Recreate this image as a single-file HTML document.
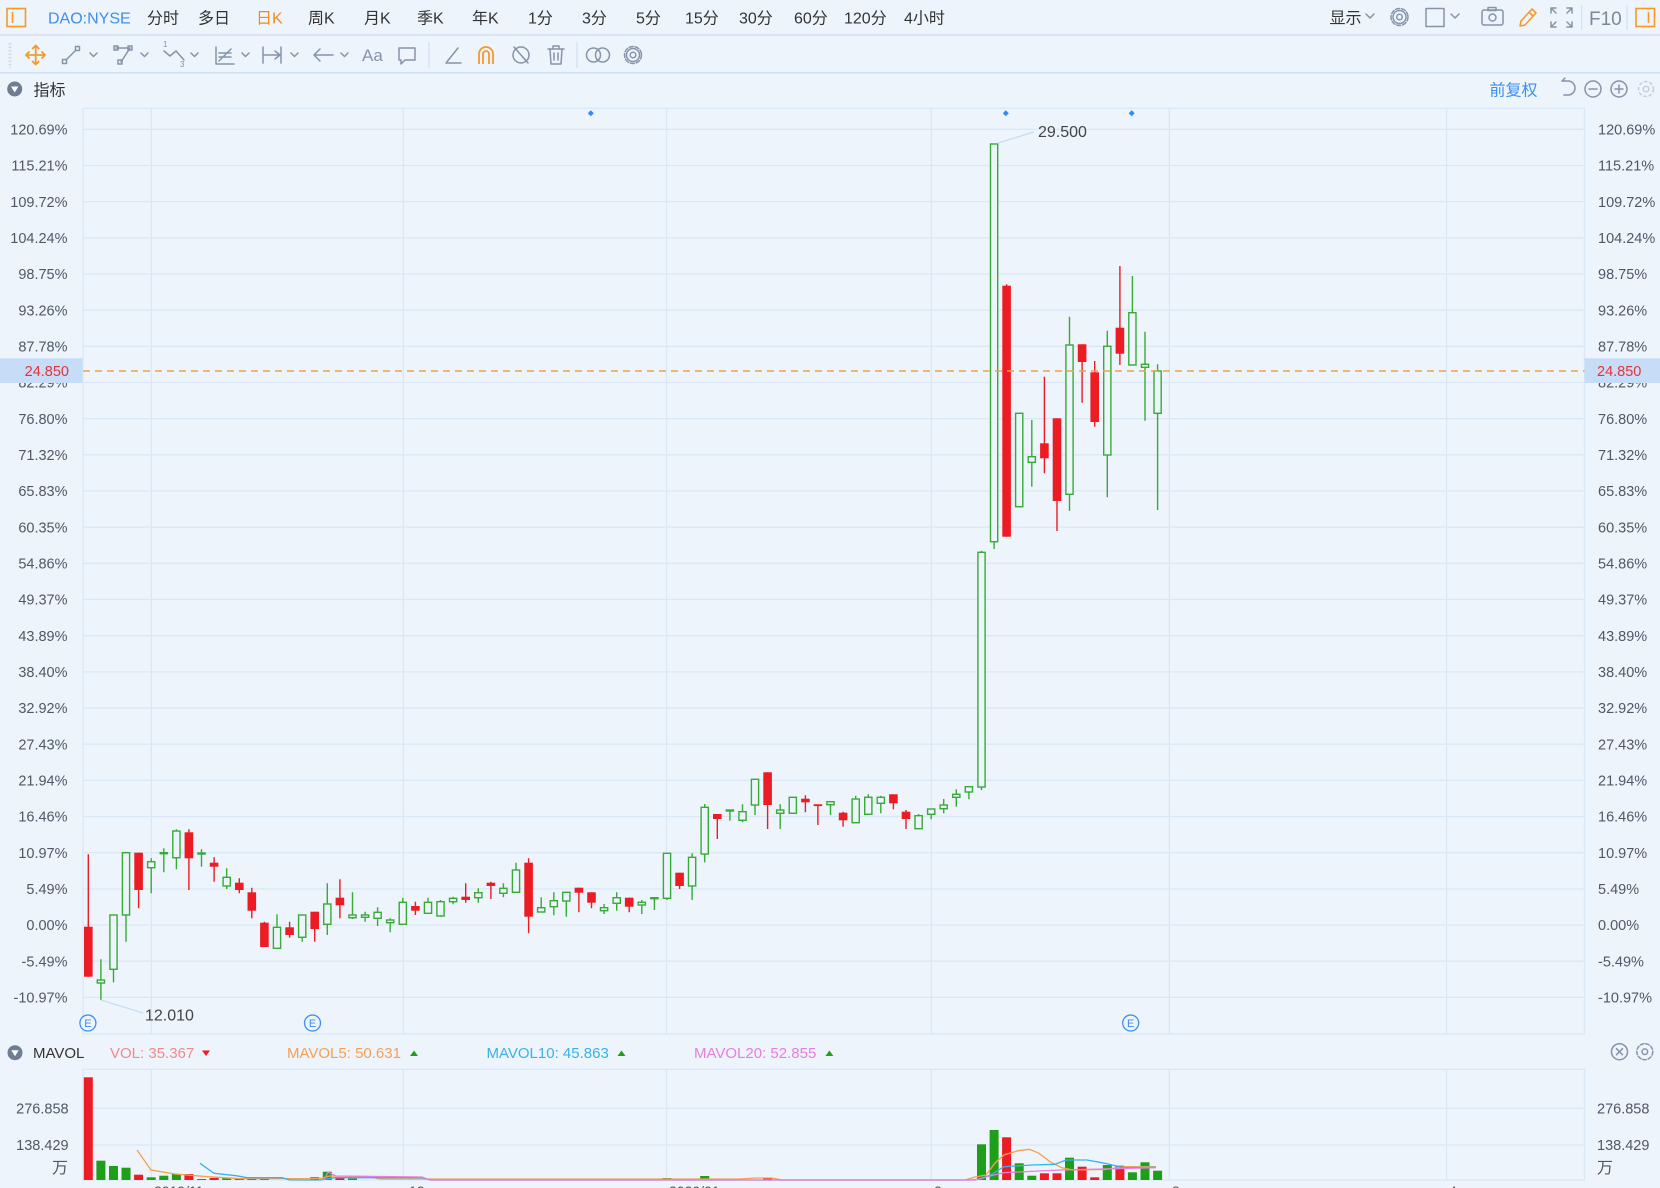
<!DOCTYPE html>
<html><head><meta charset="utf-8"><style>
html,body{margin:0;padding:0;background:#edf4fc;overflow:hidden;width:1660px;height:1188px}
svg{display:block}
text{font-family:"Liberation Sans","Noto Sans CJK SC",sans-serif}
.ax{font-size:14.5px;fill:#4f5866}
.tb{font-size:16px;fill:#333}
.ic{fill:none;stroke:#8694a8;stroke-width:1.5;stroke-linecap:round;stroke-linejoin:round}
.gw{fill:none;stroke:#38ab37;stroke-width:1.4}
.gb{fill:#edf4fc;stroke:#38ab37;stroke-width:1.4}
.rw{fill:none;stroke:#ec1c24;stroke-width:1.4}
.rb{fill:#ec1c24}
.grid{stroke:#dae8f6;stroke-width:1.3}
</style></head><body>
<svg width="1660" height="1188" viewBox="0 0 1660 1188" xmlns="http://www.w3.org/2000/svg">
<rect x="0" y="0" width="1660" height="1188" fill="#edf4fc"/>
<!-- row separators -->
<line x1="0" y1="35" x2="1660" y2="35" stroke="#d3e2f2" stroke-width="1.5"/>
<line x1="0" y1="72.7" x2="1660" y2="72.7" stroke="#d3e2f2" stroke-width="1.5"/>

<!-- ROW 1 -->
<rect x="7" y="8.5" width="18.5" height="18" fill="none" stroke="#f39a2b" stroke-width="1.6"/>
<line x1="12.5" y1="12" x2="12.5" y2="23" stroke="#f39a2b" stroke-width="1.6"/>
<text x="48" y="23.5" style="font-size:16px;fill:#3d8ef0">DAO:NYSE</text>
<text class="tb" x="147" y="23.5">分时</text>
<text class="tb" x="198" y="23.5">多日</text>
<text x="256" y="23.5" style="font-size:16px;fill:#f08c1e">日K</text>
<text class="tb" x="308" y="23.5">周K</text>
<text class="tb" x="364" y="23.5">月K</text>
<text class="tb" x="417" y="23.5">季K</text>
<text class="tb" x="472" y="23.5">年K</text>
<text class="tb" x="528" y="23.5">1分</text>
<text class="tb" x="582" y="23.5">3分</text>
<text class="tb" x="636" y="23.5">5分</text>
<text class="tb" x="685" y="23.5">15分</text>
<text class="tb" x="739" y="23.5">30分</text>
<text class="tb" x="794" y="23.5">60分</text>
<text class="tb" x="844" y="23.5">120分</text>
<text class="tb" x="904" y="23.5">4小时</text>

<text class="tb" x="1329.5" y="23.5">显示</text>
<polyline class="ic" points="1366,14 1370,18 1374,14"/>
<circle class="ic" cx="1399.5" cy="17" r="8.5" stroke-dasharray="4 2"/>
<circle class="ic" cx="1399.5" cy="17" r="6.5"/>
<circle class="ic" cx="1399.5" cy="17" r="2.8"/>
<rect class="ic" x="1426" y="8.5" width="18" height="18"/>
<polyline class="ic" points="1451,14 1455,18 1459,14"/>
<rect class="ic" x="1482" y="10" width="21" height="15" rx="2"/>
<rect class="ic" x="1488" y="7.5" width="8" height="3"/>
<circle class="ic" cx="1492.5" cy="17.5" r="3.5"/>
<path d="M1520 26 L1521 21 L1532 9 L1536 13 L1525 25 Z M1529 12 L1533 16" fill="none" stroke="#f39a2b" stroke-width="1.6" stroke-linejoin="round"/>
<path class="ic" d="M1551 13V8H1556 M1567 8H1572V13 M1572 22V27H1567 M1556 27H1551V22 M1552 9L1556 13 M1571 9L1567 13 M1571 26L1567 22 M1552 26L1556 22"/>
<line x1="1581.6" y1="5" x2="1581.6" y2="30" stroke="#d3e2f2" stroke-width="1.3"/>
<text x="1589" y="25" style="font-size:19px;fill:#7d8898">F10</text>
<line x1="1627" y1="5" x2="1627" y2="30" stroke="#d3e2f2" stroke-width="1.3"/>
<rect x="1636" y="8.5" width="18.5" height="18" fill="none" stroke="#f39a2b" stroke-width="1.6"/>
<line x1="1648.5" y1="12" x2="1648.5" y2="23" stroke="#f39a2b" stroke-width="1.6"/>

<!-- ROW 2 -->
<line x1="10" y1="43" x2="10" y2="68" stroke="#c8d6e6" stroke-width="2.5" stroke-dasharray="1.5 2"/>
<g fill="none" stroke="#f39a2b" stroke-width="1.8" stroke-linecap="round" stroke-linejoin="round">
<path d="M26 55H45 M35.7 45.5V64.5 M29 52L26 55L29 58 M42 52L45 55L42 58 M32.7 48.5L35.7 45.5L38.7 48.5 M32.7 61.5L35.7 64.5L38.7 61.5"/>
</g>
<path class="ic" d="M66 60L76 50"/><rect class="ic" x="62.5" y="59.5" width="4" height="4"/><rect class="ic" x="75.5" y="46.5" width="4" height="4"/>
<polyline class="ic" points="90,53 93.5,56.5 97,53"/>
<path class="ic" d="M116 48H130L121 62"/><rect class="ic" x="114" y="46" width="4" height="4"/><rect class="ic" x="128" y="46" width="4" height="4"/><rect class="ic" x="118" y="60" width="4" height="4"/>
<polyline class="ic" points="141,53 144.5,56.5 148,53"/>
<polyline class="ic" points="164,51 170,56 176,51 184,60"/>
<text x="163" y="47" style="font-size:8px;fill:#8694a8">1</text><text x="180" y="67" style="font-size:8px;fill:#8694a8">3</text>
<polyline class="ic" points="191,53 194.5,56.5 198,53"/>
<path class="ic" d="M216 47V64H234 M219 61L231 49 M219 53H231 M219 57H231"/>
<polyline class="ic" points="242,53 245.5,56.5 249,53"/>
<path class="ic" d="M263 47V63 M281 47V63 M263 55H280 M275 51L280 55L275 59"/>
<polyline class="ic" points="291,53 294.5,56.5 298,53"/>
<path class="ic" d="M314 55H333 M320 49L314 55L320 61"/>
<polyline class="ic" points="341,53 344.5,56.5 348,53"/>
<text x="362" y="61" style="font-size:17px;fill:#8694a8">Aa</text>
<path class="ic" d="M399 48H415V60H405L401 64V60H399Z"/>
<line x1="429" y1="42" x2="429" y2="68" stroke="#d3e2f2" stroke-width="1.3"/>
<path class="ic" d="M446 63H461 M446 63L458 48"/>
<path d="M479 64V54A7 7 0 0 1 493 54V64 M483 64V54A3 3 0 0 1 489 54V64" fill="none" stroke="#f39a2b" stroke-width="1.8"/>
<circle class="ic" cx="521" cy="55" r="8"/><path class="ic" d="M514 47L528 63"/>
<path class="ic" d="M548 49H564 M553 49V46H559V49 M550 49L551 64H561L562 49 M554 53V60 M558 53V60"/>
<line x1="577" y1="42" x2="577" y2="68" stroke="#d3e2f2" stroke-width="1.3"/>
<circle class="ic" cx="593.5" cy="55" r="7"/><circle class="ic" cx="602.5" cy="55" r="7"/>
<circle class="ic" cx="633" cy="55" r="8.5" stroke-dasharray="4 2"/><circle class="ic" cx="633" cy="55" r="6.5"/><circle class="ic" cx="633" cy="55" r="2.8"/>

<!-- ROW 3 -->
<circle cx="14.7" cy="89" r="7.5" fill="#6e7d91"/>
<path d="M11 86.5H18.4L14.7 92.5Z" fill="#fff"/>
<text x="33.5" y="95.5" style="font-size:16px;fill:#333">指标</text>
<text x="1489.5" y="95.5" style="font-size:16px;fill:#3d8ef0">前复权</text>
<path class="ic" d="M1562 81H1568A7 7 0 0 1 1568 95H1564 M1562 81L1565 78"/>
<circle class="ic" cx="1593" cy="89" r="8"/><path class="ic" d="M1589 89H1597"/>
<circle class="ic" cx="1619" cy="89" r="8"/><path class="ic" d="M1615 89H1623 M1619 85V93"/>
<circle cx="1646" cy="89" r="7.5" fill="none" stroke="#c3cfdc" stroke-width="1.5" stroke-dasharray="3.5 2"/><circle cx="1646" cy="89" r="2.8" fill="none" stroke="#c3cfdc" stroke-width="1.5"/>

<!-- MAIN CHART GRID -->
<g class="grid">
<rect x="83" y="108.3" width="1501.5" height="925.7" fill="none"/>
<line x1="83" x2="1584.5" y1="129.3" y2="129.3"/>
<line x1="83" x2="1584.5" y1="165.5" y2="165.5"/>
<line x1="83" x2="1584.5" y1="201.6" y2="201.6"/>
<line x1="83" x2="1584.5" y1="237.8" y2="237.8"/>
<line x1="83" x2="1584.5" y1="274" y2="274"/>
<line x1="83" x2="1584.5" y1="310.2" y2="310.2"/>
<line x1="83" x2="1584.5" y1="346.3" y2="346.3"/>
<line x1="83" x2="1584.5" y1="382.5" y2="382.5"/>
<line x1="83" x2="1584.5" y1="418.7" y2="418.7"/>
<line x1="83" x2="1584.5" y1="454.8" y2="454.8"/>
<line x1="83" x2="1584.5" y1="491" y2="491"/>
<line x1="83" x2="1584.5" y1="527.2" y2="527.2"/>
<line x1="83" x2="1584.5" y1="563.3" y2="563.3"/>
<line x1="83" x2="1584.5" y1="599.5" y2="599.5"/>
<line x1="83" x2="1584.5" y1="635.7" y2="635.7"/>
<line x1="83" x2="1584.5" y1="671.9" y2="671.9"/>
<line x1="83" x2="1584.5" y1="708" y2="708"/>
<line x1="83" x2="1584.5" y1="744.2" y2="744.2"/>
<line x1="83" x2="1584.5" y1="780.4" y2="780.4"/>
<line x1="83" x2="1584.5" y1="816.5" y2="816.5"/>
<line x1="83" x2="1584.5" y1="852.7" y2="852.7"/>
<line x1="83" x2="1584.5" y1="888.9" y2="888.9"/>
<line x1="83" x2="1584.5" y1="925" y2="925"/>
<line x1="83" x2="1584.5" y1="961.2" y2="961.2"/>
<line x1="83" x2="1584.5" y1="997.4" y2="997.4"/>
<line x1="151.3" x2="151.3" y1="108.3" y2="1034"/>
<line x1="403.3" x2="403.3" y1="108.3" y2="1034"/>
<line x1="666.5" x2="666.5" y1="108.3" y2="1034"/>
<line x1="931.3" x2="931.3" y1="108.3" y2="1034"/>
<line x1="1169.3" x2="1169.3" y1="108.3" y2="1034"/>
<line x1="1446.5" x2="1446.5" y1="108.3" y2="1034"/>
</g>

<!-- AXIS LABELS -->
<g class="ax" text-anchor="end">
<text x="67.5" y="134.5">120.69%</text>
<text x="67.5" y="170.7">115.21%</text>
<text x="67.5" y="206.8">109.72%</text>
<text x="67.5" y="243">104.24%</text>
<text x="67.5" y="279.2">98.75%</text>
<text x="67.5" y="315.4">93.26%</text>
<text x="67.5" y="351.5">87.78%</text>
<text x="67.5" y="387.7">82.29%</text>
<text x="67.5" y="423.9">76.80%</text>
<text x="67.5" y="460">71.32%</text>
<text x="67.5" y="496.2">65.83%</text>
<text x="67.5" y="532.4">60.35%</text>
<text x="67.5" y="568.5">54.86%</text>
<text x="67.5" y="604.7">49.37%</text>
<text x="67.5" y="640.9">43.89%</text>
<text x="67.5" y="677.1">38.40%</text>
<text x="67.5" y="713.2">32.92%</text>
<text x="67.5" y="749.4">27.43%</text>
<text x="67.5" y="785.6">21.94%</text>
<text x="67.5" y="821.7">16.46%</text>
<text x="67.5" y="857.9">10.97%</text>
<text x="67.5" y="894.1">5.49%</text>
<text x="67.5" y="930.2">0.00%</text>
<text x="67.5" y="966.4">-5.49%</text>
<text x="67.5" y="1002.6">-10.97%</text>
</g>
<g class="ax">
<text x="1598" y="134.5">120.69%</text>
<text x="1598" y="170.7">115.21%</text>
<text x="1598" y="206.8">109.72%</text>
<text x="1598" y="243">104.24%</text>
<text x="1598" y="279.2">98.75%</text>
<text x="1598" y="315.4">93.26%</text>
<text x="1598" y="351.5">87.78%</text>
<text x="1598" y="387.7">82.29%</text>
<text x="1598" y="423.9">76.80%</text>
<text x="1598" y="460">71.32%</text>
<text x="1598" y="496.2">65.83%</text>
<text x="1598" y="532.4">60.35%</text>
<text x="1598" y="568.5">54.86%</text>
<text x="1598" y="604.7">49.37%</text>
<text x="1598" y="640.9">43.89%</text>
<text x="1598" y="677.1">38.40%</text>
<text x="1598" y="713.2">32.92%</text>
<text x="1598" y="749.4">27.43%</text>
<text x="1598" y="785.6">21.94%</text>
<text x="1598" y="821.7">16.46%</text>
<text x="1598" y="857.9">10.97%</text>
<text x="1598" y="894.1">5.49%</text>
<text x="1598" y="930.2">0.00%</text>
<text x="1598" y="966.4">-5.49%</text>
<text x="1598" y="1002.6">-10.97%</text>
</g>

<!-- top markers -->
<g fill="#2f8cf0">
<path d="M590.8 110.3L593.8 113.3L590.8 116.3L587.8 113.3Z"/>
<path d="M1005.8 110.3L1008.8 113.3L1005.8 116.3L1002.8 113.3Z"/>
<path d="M1131.7 110.3L1134.7 113.3L1131.7 116.3L1128.7 113.3Z"/>
</g>

<!-- CANDLES: wicks -->
<path class="gw" d="M100.9 959.3V1000M113.5 915V982.3M126 851.7V941.7M151.2 858.3V893.3M163.8 848.3V872.3M176.4 829.3V869.3M201.5 849.3V866.7M226.7 868.3V889M277 914.3V948.3M302.2 915V941.7M327.3 883.3V935M352.5 892.3V919M365.1 911.7V921.7M377.6 907.3V926M390.2 918.3V932.3M402.8 897.7V924.3M428 897.7V913.3M440.5 900V916.7M453.1 896.7V904.3M478.3 888.3V902.7M503.4 883.3V897.3M516 862.7V892.3M541.2 897.3V912M553.8 892.3V915.3M566.3 892.3V916.7M604.1 904V914M616.7 892.3V910.7M641.8 900V914M654.4 897.7V910M667 853.3V900M692.1 853.3V900M704.7 804V862.3M729.9 810V820.7M742.5 804.3V822.3M755 779.3V815M780.2 804.3V829M792.8 797.3V813.3M830.5 801.7V815M855.7 795.7V822.7M868.3 794.3V815M880.8 795.7V813.3M918.6 814V828.7M931.2 809V819.3M943.7 799V813.3M956.3 789.3V806.7M968.9 786.7V799.3M981.5 550.7V790M994.1 144V549M1019.2 413.3V506.7M1031.8 420V486.7M1069.5 316.7V511M1107.3 330.7V497.3M1132.4 276V365M1145 331.7V420.7M1157.6 364.3V510"/>
<path class="rw" d="M88.3 854.3V976.7M138.6 852.7V908.3M188.9 829.3V890M214.1 857.3V881.7M239.3 878.3V893.3M251.8 887.7V918.3M264.4 921.7V947M289.6 921.7V937.7M314.7 911.7V941.7M339.9 879.3V918.3M415.4 901.7V915M465.7 883.3V902.7M490.9 881.7V899M528.6 858.3V933.3M578.9 887.7V912.3M591.5 892.3V908.3M629.2 897.7V912.3M679.6 872.7V889M717.3 814V839M767.6 772.3V829M805.4 795.3V812.3M817.9 804.3V825M843.1 811.7V826.7M893.4 794.3V809.3M906 810V829M1006.6 284.3V536.7M1044.4 376.7V473.3M1057 418.3V531M1082.1 344.3V402.7M1094.7 361V426.7M1119.9 266V365"/>
<!-- green bodies -->
<g class="gb">
<rect x="97.3" y="980" width="7.2" height="3"/>
<rect x="109.9" y="915" width="7.2" height="54.3"/>
<rect x="122.4" y="852.7" width="7.2" height="62.3"/>
<rect x="147.6" y="861.7" width="7.2" height="6"/>
<rect x="160.2" y="852.7" width="7.2" height="1"/>
<rect x="172.8" y="831" width="7.2" height="26.7"/>
<rect x="197.9" y="853" width="7.2" height="1"/>
<rect x="223.1" y="877.3" width="7.2" height="8.7"/>
<rect x="273.4" y="927.3" width="7.2" height="21"/>
<rect x="298.6" y="915" width="7.2" height="22.3"/>
<rect x="323.7" y="904" width="7.2" height="20.3"/>
<rect x="348.9" y="915" width="7.2" height="2.7"/>
<rect x="361.5" y="915" width="7.2" height="2.3"/>
<rect x="374" y="912.3" width="7.2" height="6"/>
<rect x="386.6" y="920" width="7.2" height="2.7"/>
<rect x="399.2" y="902.3" width="7.2" height="22"/>
<rect x="424.4" y="902.3" width="7.2" height="11"/>
<rect x="436.9" y="901.7" width="7.2" height="14.3"/>
<rect x="449.5" y="898.3" width="7.2" height="3.4"/>
<rect x="474.7" y="892.7" width="7.2" height="5"/>
<rect x="499.8" y="888.3" width="7.2" height="5"/>
<rect x="512.4" y="870" width="7.2" height="22.3"/>
<rect x="537.6" y="907.7" width="7.2" height="4.3"/>
<rect x="550.2" y="900.7" width="7.2" height="6"/>
<rect x="562.7" y="892.3" width="7.2" height="8.7"/>
<rect x="600.5" y="907.7" width="7.2" height="3"/>
<rect x="613.1" y="897.7" width="7.2" height="5.6"/>
<rect x="638.2" y="902.3" width="7.2" height="2.7"/>
<rect x="650.8" y="897.7" width="7.2" height="1"/>
<rect x="663.4" y="853.3" width="7.2" height="45"/>
<rect x="688.5" y="857.3" width="7.2" height="28.7"/>
<rect x="701.1" y="807.3" width="7.2" height="46.7"/>
<rect x="726.3" y="810" width="7.2" height="1"/>
<rect x="738.9" y="811.7" width="7.2" height="8.6"/>
<rect x="751.4" y="779.3" width="7.2" height="25.7"/>
<rect x="776.6" y="810" width="7.2" height="3.3"/>
<rect x="789.2" y="797.3" width="7.2" height="16"/>
<rect x="826.9" y="801.7" width="7.2" height="3"/>
<rect x="852.1" y="799" width="7.2" height="23.7"/>
<rect x="864.7" y="797.3" width="7.2" height="17"/>
<rect x="877.2" y="797.3" width="7.2" height="6"/>
<rect x="915" y="815.7" width="7.2" height="13"/>
<rect x="927.6" y="809" width="7.2" height="5.3"/>
<rect x="940.1" y="805" width="7.2" height="3.7"/>
<rect x="952.7" y="794.3" width="7.2" height="3"/>
<rect x="965.3" y="786.7" width="7.2" height="5.3"/>
<rect x="977.9" y="552.3" width="7.2" height="234.7"/>
<rect x="990.5" y="144" width="7.2" height="397.7"/>
<rect x="1015.6" y="413.3" width="7.2" height="93.4"/>
<rect x="1028.2" y="456.7" width="7.2" height="5.6"/>
<rect x="1065.9" y="345" width="7.2" height="149.3"/>
<rect x="1103.7" y="346.3" width="7.2" height="108.7"/>
<rect x="1128.8" y="312.7" width="7.2" height="52.3"/>
<rect x="1141.4" y="364.3" width="7.2" height="3"/>
<rect x="1154" y="371" width="7.2" height="42.3"/>
</g>
<!-- red bodies -->
<g class="rb">
<rect x="84" y="926.7" width="8.6" height="50"/>
<rect x="134.3" y="852.7" width="8.6" height="37.3"/>
<rect x="184.6" y="832.3" width="8.6" height="26"/>
<rect x="209.8" y="862.7" width="8.6" height="4"/>
<rect x="235" y="882.7" width="8.6" height="7.3"/>
<rect x="247.5" y="892.3" width="8.6" height="18.4"/>
<rect x="260.1" y="922.7" width="8.6" height="24.3"/>
<rect x="285.3" y="927.3" width="8.6" height="7.7"/>
<rect x="310.4" y="911.7" width="8.6" height="17.3"/>
<rect x="335.6" y="897.7" width="8.6" height="7.6"/>
<rect x="411.1" y="906" width="8.6" height="4.7"/>
<rect x="461.4" y="896.7" width="8.6" height="3.3"/>
<rect x="486.6" y="882.7" width="8.6" height="3.3"/>
<rect x="524.3" y="862.7" width="8.6" height="54"/>
<rect x="574.6" y="887.7" width="8.6" height="5"/>
<rect x="587.2" y="892.3" width="8.6" height="10.4"/>
<rect x="624.9" y="897.7" width="8.6" height="9"/>
<rect x="675.3" y="872.7" width="8.6" height="13.3"/>
<rect x="713" y="814" width="8.6" height="5"/>
<rect x="763.3" y="772.3" width="8.6" height="32.7"/>
<rect x="801.1" y="798.7" width="8.6" height="3.6"/>
<rect x="813.6" y="804.3" width="8.6" height="1.8"/>
<rect x="838.8" y="812.7" width="8.6" height="7.6"/>
<rect x="889.1" y="794.3" width="8.6" height="9"/>
<rect x="901.7" y="811.7" width="8.6" height="7.3"/>
<rect x="1002.3" y="285.7" width="8.6" height="251"/>
<rect x="1040.1" y="443.3" width="8.6" height="15"/>
<rect x="1052.7" y="418.3" width="8.6" height="82.7"/>
<rect x="1077.8" y="344.3" width="8.6" height="17.7"/>
<rect x="1090.4" y="372.3" width="8.6" height="49.7"/>
<rect x="1115.6" y="327.7" width="8.6" height="26"/>
</g>

<!-- price line & labels -->
<line x1="83" y1="371" x2="1584.5" y2="371" stroke="#f4a246" stroke-width="1.4" stroke-dasharray="7 5"/>
<rect x="0" y="358.3" width="82.5" height="24.7" fill="#c6dcf7"/>
<text x="69" y="376" text-anchor="end" style="font-size:14.5px;fill:#e8323a">24.850</text>
<rect x="1584.5" y="358.3" width="75.5" height="24.7" fill="#c6dcf7"/>
<text x="1597" y="376" style="font-size:14.5px;fill:#e8323a">24.850</text>

<!-- annotations -->
<line x1="998" y1="143" x2="1034" y2="132" stroke="#c8dcf0" stroke-width="1.2"/>
<text x="1038" y="137" style="font-size:16px;fill:#444">29.500</text>
<line x1="101" y1="1000" x2="143" y2="1013" stroke="#c8dcf0" stroke-width="1.2"/>
<text x="145" y="1020.5" style="font-size:16px;fill:#444">12.010</text>

<!-- E markers -->
<g>
<circle cx="87.9" cy="1023" r="8" fill="#edf4fc" stroke="#3d8ef0" stroke-width="1.3"/>
<circle cx="312.5" cy="1023" r="8" fill="#edf4fc" stroke="#3d8ef0" stroke-width="1.3"/>
<circle cx="1130.7" cy="1023" r="8" fill="#edf4fc" stroke="#3d8ef0" stroke-width="1.3"/>
<g style="font-size:11px;fill:#3d8ef0" text-anchor="middle">
<text x="87.9" y="1027">E</text><text x="312.5" y="1027">E</text><text x="1130.7" y="1027">E</text>
</g>
</g>

<!-- MAVOL header -->
<circle cx="15" cy="1052.7" r="7.5" fill="#6e7d91"/>
<path d="M11.3 1050.2H18.7L15 1056.2Z" fill="#fff"/>
<text x="33" y="1058" style="font-size:15px;fill:#333">MAVOL</text>
<text x="110" y="1058" style="font-size:15px;fill:#f28a8a">VOL: 35.367</text>
<path d="M202 1050.5H210L206 1056Z" fill="#ec1c24"/>
<text x="287" y="1058" style="font-size:15px;fill:#f6a055">MAVOL5: 50.631</text>
<path d="M410 1056H418L414 1050.5Z" fill="#22a01c"/>
<text x="486.5" y="1058" style="font-size:15px;fill:#38b2e8">MAVOL10: 45.863</text>
<path d="M617.5 1056H625.5L621.5 1050.5Z" fill="#22a01c"/>
<text x="694" y="1058" style="font-size:15px;fill:#e77ee0">MAVOL20: 52.855</text>
<path d="M825.4 1056H833.4L829.4 1050.5Z" fill="#22a01c"/>
<circle class="ic" cx="1619.5" cy="1051.7" r="8"/><path class="ic" d="M1616.5 1048.7L1622.5 1054.7M1622.5 1048.7L1616.5 1054.7"/>
<circle class="ic" cx="1644.8" cy="1051.7" r="8" stroke-dasharray="3.5 2"/><circle class="ic" cx="1644.8" cy="1051.7" r="2.8"/>

<!-- VOLUME GRID -->
<g class="grid">
<rect x="83" y="1069.3" width="1501.5" height="110.7" fill="none"/>
<line x1="83" x2="1584.5" y1="1108.3" y2="1108.3"/>
<line x1="83" x2="1584.5" y1="1145" y2="1145"/>
<line x1="151.3" x2="151.3" y1="1069.3" y2="1180"/>
<line x1="403.3" x2="403.3" y1="1069.3" y2="1180"/>
<line x1="666.5" x2="666.5" y1="1069.3" y2="1180"/>
<line x1="931.3" x2="931.3" y1="1069.3" y2="1180"/>
<line x1="1169.3" x2="1169.3" y1="1069.3" y2="1180"/>
<line x1="1446.5" x2="1446.5" y1="1069.3" y2="1180"/>
</g>
<g class="ax">
<text x="68.6" y="1113.3" text-anchor="end">276.858</text>
<text x="68.6" y="1150" text-anchor="end">138.429</text>
<text x="52" y="1173" style="font-size:16px">万</text>
<text x="1597" y="1113.3">276.858</text>
<text x="1597" y="1150">138.429</text>
<text x="1597" y="1173" style="font-size:16px">万</text>
</g>

<!-- volume bars -->
<g fill="#ec1c24">
<rect x="83.8" y="1077.3" width="9" height="102.7"/>
<rect x="134.1" y="1174.7" width="9" height="5.3"/>
<rect x="184.4" y="1174" width="9" height="6"/>
<rect x="209.6" y="1178" width="9" height="2"/>
<rect x="234.8" y="1179" width="9" height="1"/>
<rect x="247.3" y="1179" width="9" height="1"/>
<rect x="259.9" y="1178.5" width="9" height="1.5"/>
<rect x="310.2" y="1177.3" width="9" height="2.7"/>
<rect x="335.4" y="1178" width="9" height="2"/>
<rect x="763.1" y="1178.5" width="9" height="1.5"/>
<rect x="1002.1" y="1137.3" width="9" height="42.7"/>
<rect x="1039.9" y="1173.3" width="9" height="6.7"/>
<rect x="1052.5" y="1173.3" width="9" height="6.7"/>
<rect x="1077.6" y="1166.7" width="9" height="13.3"/>
<rect x="1090.2" y="1177.3" width="9" height="2.7"/>
<rect x="1115.4" y="1165.7" width="9" height="14.3"/>
</g>
<g fill="#1f9e1a">
<rect x="96.4" y="1160.7" width="9" height="19.3"/>
<rect x="109" y="1166" width="9" height="14"/>
<rect x="121.5" y="1167.7" width="9" height="12.3"/>
<rect x="146.7" y="1177.3" width="9" height="2.7"/>
<rect x="159.3" y="1175.7" width="9" height="4.3"/>
<rect x="171.9" y="1174" width="9" height="6"/>
<rect x="197" y="1179" width="9" height="1"/>
<rect x="222.2" y="1178" width="9" height="2"/>
<rect x="322.8" y="1171.7" width="9" height="8.3"/>
<rect x="348" y="1178.5" width="9" height="1.5"/>
<rect x="498.9" y="1178.5" width="9" height="1.5"/>
<rect x="662.5" y="1178" width="9" height="2"/>
<rect x="700.2" y="1176" width="9" height="4"/>
<rect x="977" y="1144.3" width="9" height="35.7"/>
<rect x="989.6" y="1130" width="9" height="50"/>
<rect x="1014.7" y="1163.3" width="9" height="16.7"/>
<rect x="1027.3" y="1175.7" width="9" height="4.3"/>
<rect x="1065" y="1157.7" width="9" height="22.3"/>
<rect x="1102.8" y="1165" width="9" height="15"/>
<rect x="1127.9" y="1172.3" width="9" height="7.7"/>
<rect x="1140.5" y="1162.3" width="9" height="17.7"/>
<rect x="1153.1" y="1170.7" width="9" height="9.3"/>
</g>
<!-- MA lines -->
<polyline fill="none" stroke="#f7a04b" stroke-width="1.3" points="137,1150 151,1170 175,1174 208,1176.7 240,1178.7 320,1178.5 330,1176 368,1176.5 380,1179 740,1179 755,1178 772,1178 782,1180 965,1180 975,1177 986,1175 995,1163 1004,1155 1018,1150.7 1029.5,1149.3 1039,1153.3 1050,1161.7 1061.7,1167.7 1073,1170 1105,1169.5 1124,1166.7 1156,1166.7"/>
<polyline fill="none" stroke="#38b2e8" stroke-width="1.3" points="200,1163.3 214,1173.3 236,1175.7 247,1177.7 282,1177.7 290,1180 320,1180 335,1177.7 422,1177.7 430,1180 970,1180 979,1179.3 990.5,1175 1004,1166.7 1032,1165 1054.8,1164.3 1066,1160 1087,1160 1105,1163.3 1123.7,1167.7 1156,1167.3"/>
<polyline fill="none" stroke="#e77ee0" stroke-width="1.3" points="324,1180 328,1172 336,1176 422,1177 430,1180 975,1180 990,1176 1004,1172.7 1060,1170 1156,1167.7"/>

<!-- date labels (cut off) -->
<g style="font-size:14px;fill:#555">
<text x="154" y="1196">2019/11</text>
<text x="409" y="1196">12</text>
<text x="669" y="1196">2020/01</text>
<text x="934" y="1196">2</text>
<text x="1172" y="1196">3</text>
<text x="1449" y="1196">4</text>
</g>
</svg>
</body></html>
